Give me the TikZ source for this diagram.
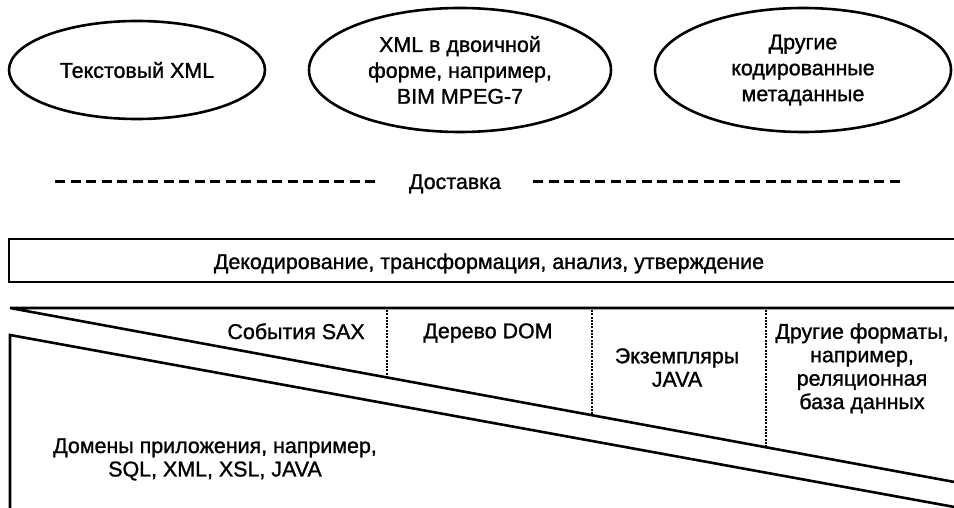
\documentclass[tikz,border=0pt]{standalone}
\usepackage{fontspec}
\setmainfont{Liberation Sans}[FakeBold=1.2]
\usetikzlibrary{shapes.geometric}

\begin{document}
\begin{tikzpicture}[x=1bp, y=-1bp, line width=2.6bp,
	every node/.style={inner sep=0pt, align=center, font=\fontsize{21.5}{23.5}\selectfont},
	oval/.style={draw, ellipse, font=\fontsize{21.5}{26}\selectfont},
	dashes/.style={line width=3bp, dash pattern=on 10bp off 5.5bp},
	divider/.style={line width=2.4bp, dash pattern=on 2bp off 1.3bp}]
	\useasboundingbox (0, 0) rectangle (954, 508);
	\node[oval, minimum width=256bp, minimum height=98bp] (txt) at (137, 70) {Текстовый XML};
	\node[oval, minimum width=302bp, minimum height=124bp] (bin) at (460, 70) {XML в двоичной\\форме, например,\\BIM MPEG-7};
	\node[oval, minimum width=296bp, minimum height=124bp] (oth) at (803, 70) {Другие\\кодированные\\метаданные};
	\node[anchor=base] (dlv) at (455, 189) {Доставка};
	\coordinate (dl) at (55, 182);
	\coordinate (dr) at (905, 182);
	\draw[dashes] (dl) -- ([xshift=-33bp]dlv.west |- dl);
	\draw[dashes] ([xshift=31bp]dlv.east |- dr) -- (dr);
	\begin{scope}
	\clip (0, 0) rectangle (954, 508);
	\draw (9, 239) rectangle (970, 282);
	\coordinate (ul) at (10, 308);
	\coordinate (ur) at (960, 483);
	\coordinate (ll) at (10, 335);
	\coordinate (lr) at (960, 508);
	\draw (960, 308) -- (ul) -- (ur);
	\draw (10, 520) -- (ll) -- (lr);
	\end{scope}
	\node[anchor=base] (dec) at (489, 269) {Декодирование, трансформация, анализ, утверждение};
	\foreach \x/\y in {387/377, 592/415, 766/447}
		\draw[divider] (\x, 310) -- (\x, \y);
	\node[anchor=north east] (sax) at (366, 322) {События SAX};
	\node[anchor=north] (dom) at (488, 322) {Дерево DOM};
	\node[anchor=north] (jav) at (677, 347) {Экземпляры\\JAVA};
	\node[anchor=north] (fmt) at (862, 322) {Другие форматы,\\например,\\реляционная\\база данных};
	\node[anchor=north] (app) at (215, 437) {Домены приложения, например,\\SQL, XML, XSL, JAVA};
\end{tikzpicture}
\end{document}
